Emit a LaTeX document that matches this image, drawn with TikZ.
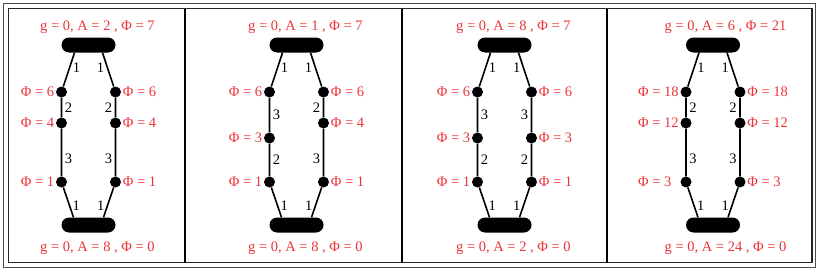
\documentclass[tikz,border=0pt]{standalone}
\usepackage{fontspec}
\setmainfont{Liberation Serif}
\usepackage{xcolor}
\usepackage{tikz}
\usetikzlibrary{positioning}
\definecolor{phired}{RGB}{235,50,55}

\begin{document}
\begin{tikzpicture}[
	x=1pt, y=-1pt,
	font=\fontsize{14.5}{16}\selectfont,
	bar/.style={fill=black, rounded corners=7.5pt, minimum width=54pt, minimum height=15pt, inner sep=0pt},
	dot/.style={circle, fill=black, minimum size=11pt, inner sep=0pt},
	phi/.style={text=phired, inner sep=1.5pt},
	info/.style={text=phired, anchor=west, inner sep=0pt},
	wt/.style={inner sep=2.5pt},
	edge/.style={line width=1.6pt}
]
	\useasboundingbox (0,0) rectangle (825,273);

	% frame of the table
	\draw[line width=1.3pt, black!70] (3.5,3.5) rectangle (815.5,267.5);
	\draw[line width=1.3pt, black!85] (8.5,8.5) rectangle (812,262.5);
	\draw[line width=1.5pt] (185,8.5) -- (185,262.5);
	\draw[line width=1.5pt] (402,8.5) -- (402,262.5);
	\draw[line width=1.5pt] (607,8.5) -- (607,262.5);

	% panel 1
	\node (p1top) [bar] at (88.5,45) {};
	\node (p1bot) [bar] at (88.5,225) {};
	\node (p1topinfo) [info] at (40,27) {g = 0, A = 2 , Φ = 7};
	\node (p1botinfo) [info] at (40,248) {g = 0, A = 8 , Φ = 0};
	\node (p1l1) [dot, label={[phi]left:{Φ = 6}}] at (61.5,92) {};
	\node (p1l2) [dot, label={[phi]left:{Φ = 4}}] at (61.5,123) {};
	\node (p1l3) [dot, label={[phi]left:{Φ = 1}}] at (61.5,182) {};
	\node (p1r1) [dot, label={[phi]right:{Φ = 6}}] at (115.5,92) {};
	\node (p1r2) [dot, label={[phi]right:{Φ = 4}}] at (115.5,123) {};
	\node (p1r3) [dot, label={[phi]right:{Φ = 1}}] at (115.5,182) {};
	\draw[edge] ([xshift=-14pt]p1top.south) -- node[wt, pos=0.45, right] {1} (p1l1)
		-- node[wt, right] {2} (p1l2) -- node[wt, pos=0.63, right] {3} (p1l3)
		-- node[wt, pos=0.6, right] {1} ([xshift=-15pt]p1bot.north);
	\draw[edge] ([xshift=14pt]p1top.south) -- node[wt, pos=0.45, left] {1} (p1r1)
		-- node[wt, left] {2} (p1r2) -- node[wt, pos=0.63, left] {3} (p1r3)
		-- node[wt, pos=0.6, left] {1} ([xshift=15pt]p1bot.north);

	% panel 2
	\node (p2top) [bar] at (296.5,45) {};
	\node (p2bot) [bar] at (296.5,225) {};
	\node (p2topinfo) [info] at (248,27) {g = 0, A = 1 , Φ = 7};
	\node (p2botinfo) [info] at (248,248) {g = 0, A = 8 , Φ = 0};
	\node (p2l1) [dot, label={[phi]left:{Φ = 6}}] at (269.5,92) {};
	\node (p2l2) [dot, label={[phi]left:{Φ = 3}}] at (269.5,138) {};
	\node (p2l3) [dot, label={[phi]left:{Φ = 1}}] at (269.5,182) {};
	\node (p2r1) [dot, label={[phi]right:{Φ = 6}}] at (323.5,92) {};
	\node (p2r2) [dot, label={[phi]right:{Φ = 4}}] at (323.5,123) {};
	\node (p2r3) [dot, label={[phi]right:{Φ = 1}}] at (323.5,182) {};
	\draw[edge] ([xshift=-14pt]p2top.south) -- node[wt, pos=0.45, right] {1} (p2l1)
		-- node[wt, right] {3} (p2l2) -- node[wt, right] {2} (p2l3)
		-- node[wt, pos=0.6, right] {1} ([xshift=-15pt]p2bot.north);
	\draw[edge] ([xshift=14pt]p2top.south) -- node[wt, pos=0.45, left] {1} (p2r1)
		-- node[wt, left] {2} (p2r2) -- node[wt, pos=0.63, left] {3} (p2r3)
		-- node[wt, pos=0.6, left] {1} ([xshift=15pt]p2bot.north);

	% panel 3
	\node (p3top) [bar] at (504.5,45) {};
	\node (p3bot) [bar] at (504.5,225) {};
	\node (p3topinfo) [info] at (456,27) {g = 0, A = 8 , Φ = 7};
	\node (p3botinfo) [info] at (456,248) {g = 0, A = 2 , Φ = 0};
	\node (p3l1) [dot, label={[phi]left:{Φ = 6}}] at (477.5,92) {};
	\node (p3l2) [dot, label={[phi]left:{Φ = 3}}] at (477.5,138) {};
	\node (p3l3) [dot, label={[phi]left:{Φ = 1}}] at (477.5,182) {};
	\node (p3r1) [dot, label={[phi]right:{Φ = 6}}] at (531.5,92) {};
	\node (p3r2) [dot, label={[phi]right:{Φ = 3}}] at (531.5,138) {};
	\node (p3r3) [dot, label={[phi]right:{Φ = 1}}] at (531.5,182) {};
	\draw[edge] ([xshift=-14pt]p3top.south) -- node[wt, pos=0.45, right] {1} (p3l1)
		-- node[wt, right] {3} (p3l2) -- node[wt, right] {2} (p3l3)
		-- node[wt, pos=0.6, right] {1} ([xshift=-15pt]p3bot.north);
	\draw[edge] ([xshift=14pt]p3top.south) -- node[wt, pos=0.45, left] {1} (p3r1)
		-- node[wt, left] {3} (p3r2) -- node[wt, left] {2} (p3r3)
		-- node[wt, pos=0.6, left] {1} ([xshift=15pt]p3bot.north);

	% panel 4
	\node (p4top) [bar] at (713,45) {};
	\node (p4bot) [bar] at (713,225) {};
	\node (p4topinfo) [info] at (664.5,27) {g = 0, A = 6 , Φ = 21};
	\node (p4botinfo) [info] at (664.5,248) {g = 0, A = 24 , Φ = 0};
	\node (p4l1) [dot, label={[phi]left:{Φ = 18}}] at (686,92) {};
	\node (p4l2) [dot, label={[phi]left:{Φ = 12}}] at (686,123) {};
	\node (p4l3) [dot, label={[phi]left:{Φ = 3\phantom{8}}}] at (686,182) {};
	\node (p4r1) [dot, label={[phi]right:{Φ = 18}}] at (740,92) {};
	\node (p4r2) [dot, label={[phi]right:{Φ = 12}}] at (740,123) {};
	\node (p4r3) [dot, label={[phi]right:{Φ = 3}}] at (740,182) {};
	\draw[edge] ([xshift=-14pt]p4top.south) -- node[wt, pos=0.45, right] {1} (p4l1)
		-- node[wt, right] {2} (p4l2) -- node[wt, pos=0.63, right] {3} (p4l3)
		-- node[wt, pos=0.6, right] {1} ([xshift=-15pt]p4bot.north);
	\draw[edge] ([xshift=14pt]p4top.south) -- node[wt, pos=0.45, left] {1} (p4r1)
		-- node[wt, left] {2} (p4r2) -- node[wt, pos=0.63, left] {3} (p4r3)
		-- node[wt, pos=0.6, left] {1} ([xshift=15pt]p4bot.north);

\end{tikzpicture}
\end{document}
